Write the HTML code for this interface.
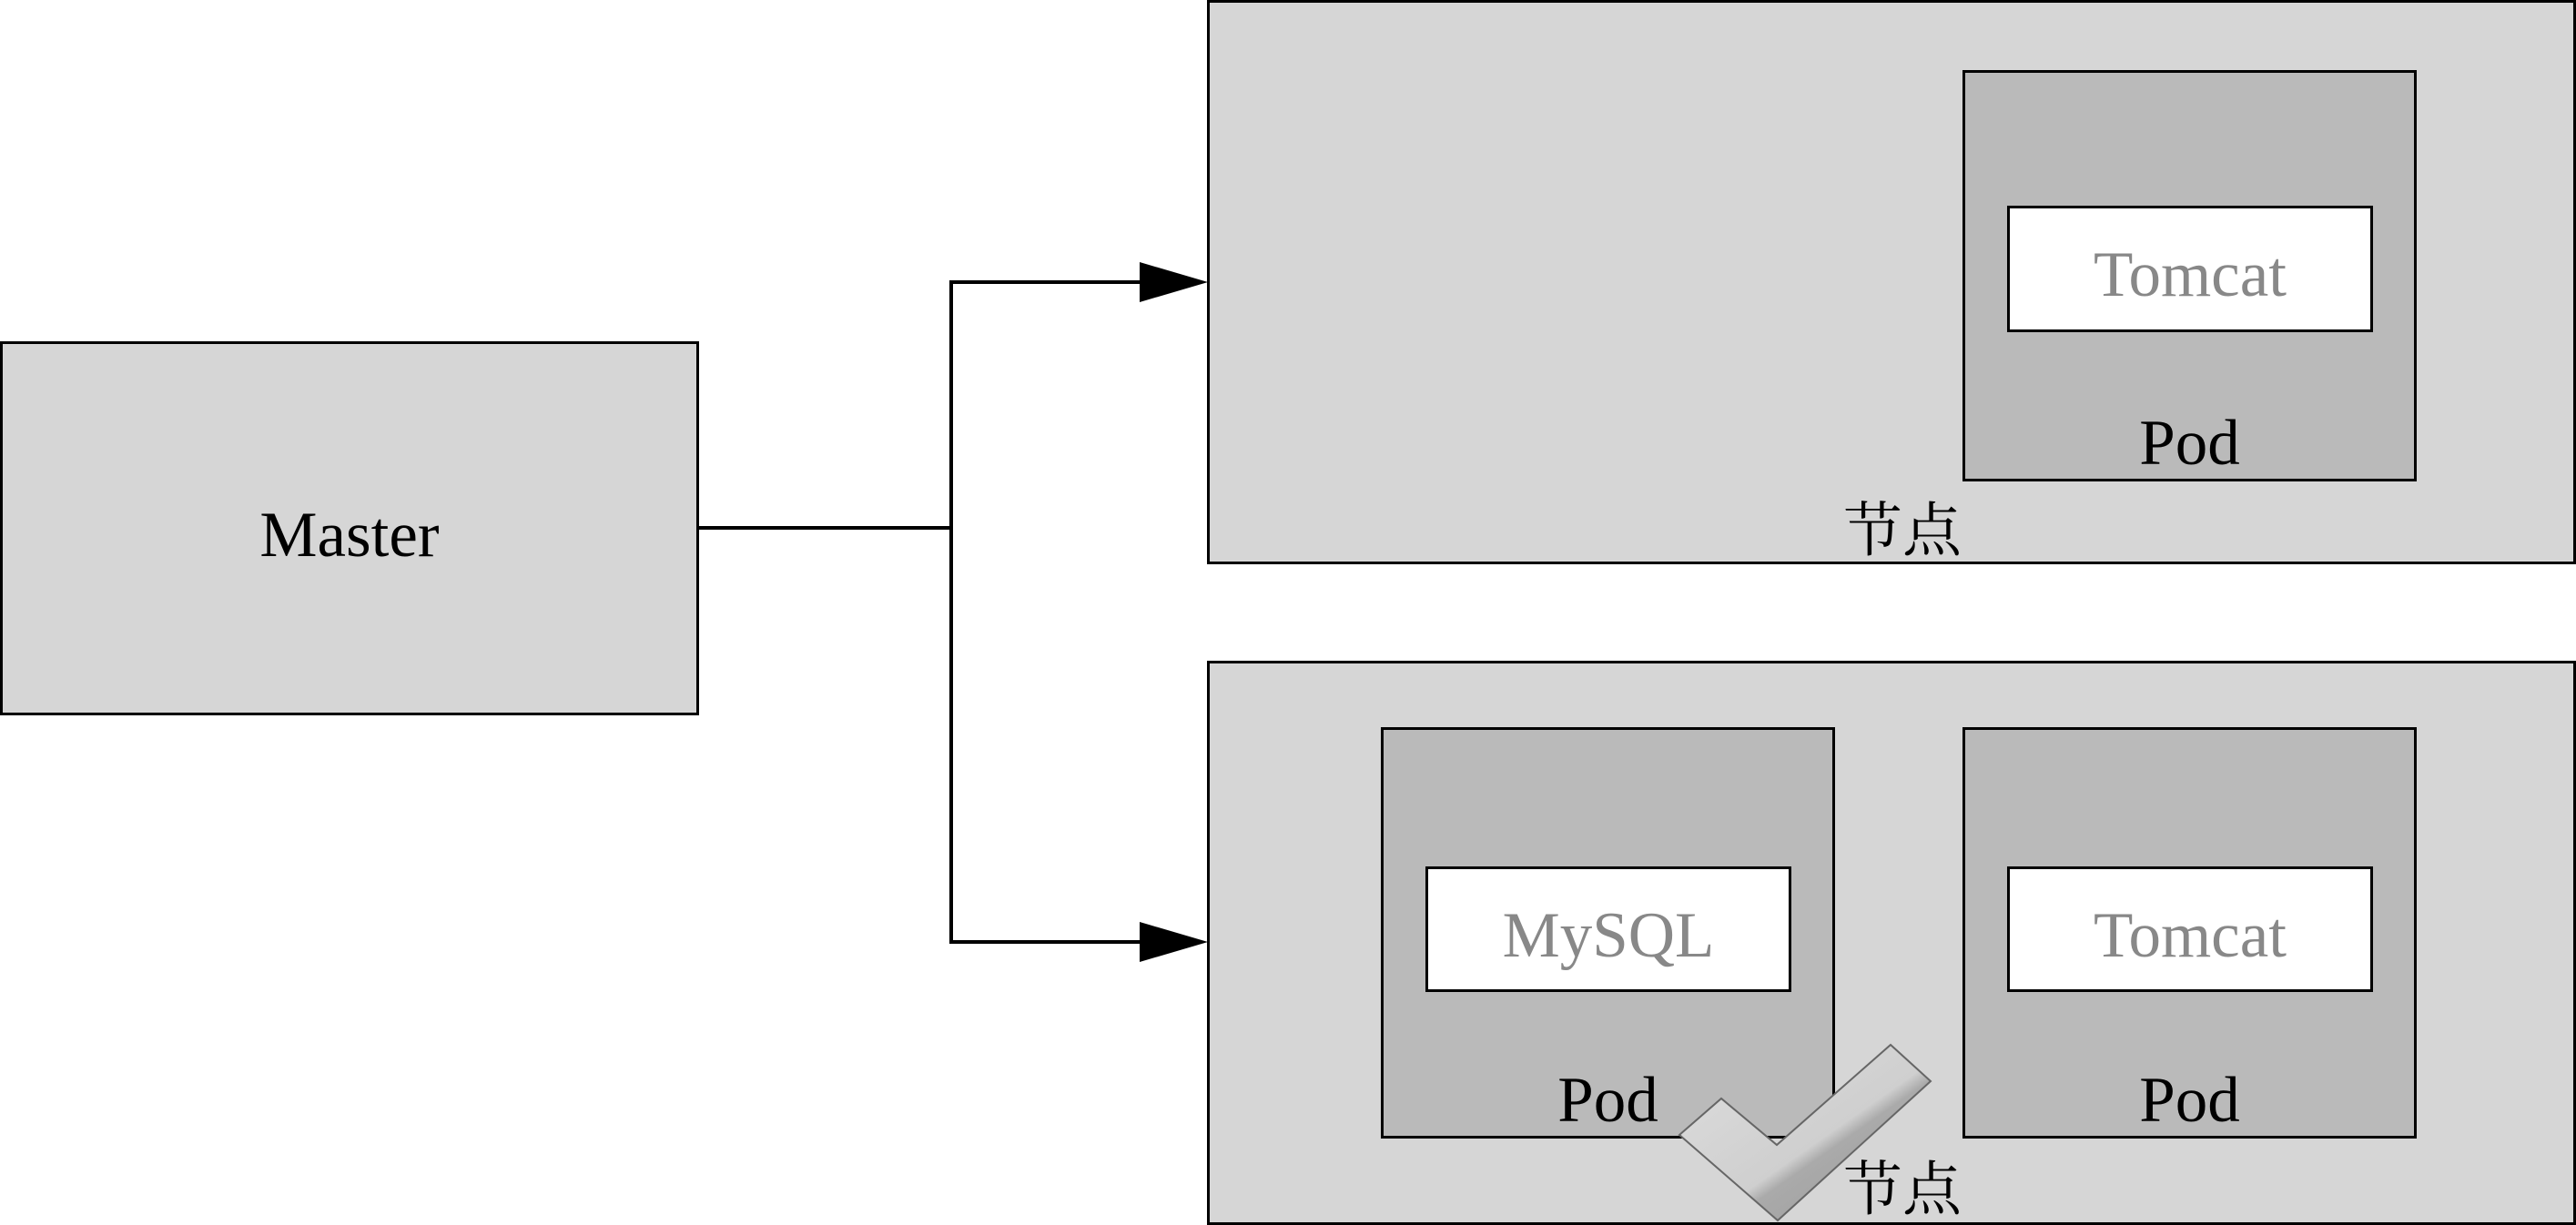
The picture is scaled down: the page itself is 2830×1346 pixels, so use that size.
<!DOCTYPE html>
<html><head><meta charset="utf-8"><style>
body{margin:0;width:2830px;height:1346px;background:#fff;position:relative;overflow:hidden;font-family:"Liberation Serif","Noto Serif CJK SC",serif;}
.b{position:absolute;box-sizing:border-box;border:3px solid #000;}
.t{position:absolute;text-align:center;font-size:71px;line-height:1;}
</style></head><body>
<div class="b" style="left:0;top:375px;width:768px;height:411px;background:#d6d6d6"></div>
<div class="t" style="left:0;top:553px;width:768px">Master</div>

<div class="b" style="left:1326px;top:0;width:1504px;height:620px;background:#d6d6d6"></div>
<div class="b" style="left:2156px;top:77px;width:499px;height:452px;background:#bababa"></div>
<div class="b" style="left:2205px;top:226px;width:402px;height:139px;background:#fff"></div>
<div class="t" style="left:2205px;top:267px;width:402px;color:#888">Tomcat</div>
<div class="t" style="left:2156px;top:452px;width:499px">Pod</div>
<div class="t" style="left:1990px;top:552px;width:200px;font-size:65px">节点</div>

<div class="b" style="left:1326px;top:726px;width:1504px;height:620px;background:#d6d6d6"></div>
<div class="b" style="left:1517px;top:799px;width:499px;height:452px;background:#bababa"></div>
<div class="b" style="left:1566px;top:952px;width:402px;height:138px;background:#fff"></div>
<div class="t" style="left:1566px;top:993px;width:402px;color:#888">MySQL</div>
<div class="t" style="left:1517px;top:1174px;width:499px">Pod</div>
<div class="b" style="left:2156px;top:799px;width:499px;height:452px;background:#bababa"></div>
<div class="b" style="left:2205px;top:952px;width:402px;height:138px;background:#fff"></div>
<div class="t" style="left:2205px;top:993px;width:402px;color:#888">Tomcat</div>
<div class="t" style="left:2156px;top:1174px;width:499px">Pod</div>
<div class="t" style="left:1990px;top:1276px;width:200px;font-size:65px">节点</div>

<svg style="position:absolute;left:0;top:0" width="2830" height="1346">
<polyline points="768,580 1045,580" stroke="#000" stroke-width="4" fill="none"/>
<polyline points="1254,310 1045,310 1045,1035 1254,1035" stroke="#000" stroke-width="4" fill="none"/>
<polygon points="1252,288 1327,310 1252,332" fill="#000"/>
<polygon points="1252,1013 1327,1035 1252,1057" fill="#000"/>
<defs><linearGradient id="g" x1="0" y1="0" x2="1" y2="1"><stop offset="0" stop-color="#dedede"/><stop offset="0.55" stop-color="#cfcfcf"/><stop offset="0.6" stop-color="#aaaaaa"/><stop offset="1" stop-color="#999"/></linearGradient></defs>
<polygon points="1845,1247 1891,1207 1952,1258 2077,1148 2121,1188 1953,1341" fill="url(#g)" stroke="#666" stroke-width="2"/>
</svg>
</body></html>
